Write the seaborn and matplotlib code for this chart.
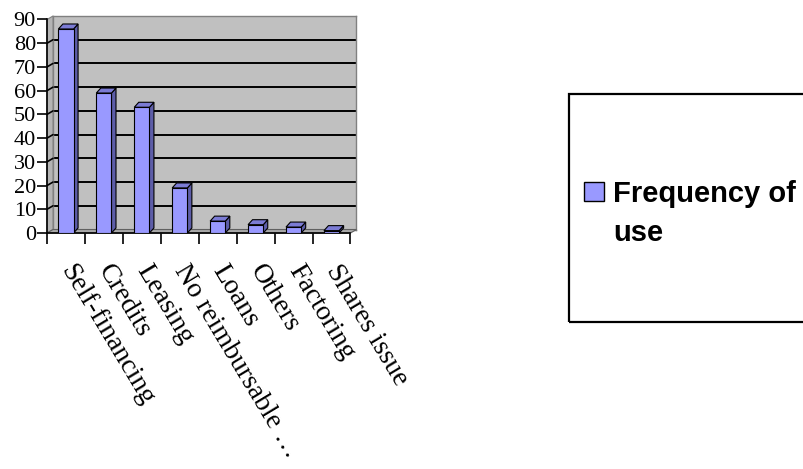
import numpy as np
import pandas as pd
import matplotlib
matplotlib.use("Agg")
import matplotlib.pyplot as plt
import seaborn as sns
from matplotlib.patches import Polygon, Rectangle
from matplotlib.lines import Line2D
from matplotlib.legend_handler import HandlerPatch

# ---- data ----
categories = ["Self-financing", "Credits", "Leasing", "No reimbursable \u2026",
              "Loans", "Others", "Factoring", "Shares issue"]
values = [86, 59, 53, 19, 5, 3.5, 2.5, 1]
series_name = "Frequency of\nuse"
y_ticks = list(range(0, 100, 10))

sns.set_theme(style="white")
plt.rcParams["font.family"] = ["Liberation Serif", "DejaVu Serif"]
plt.rcParams["text.color"] = "black"
plt.rcParams["xtick.color"] = "black"
plt.rcParams["ytick.color"] = "black"

W, H = 804, 469
fig = plt.figure(figsize=(W / 100, H / 100), dpi=100)


def fbox(l, t, r, b):
    return [l / W, 1 - b / H, (r - l) / W, (b - t) / H]


# geometry (pixels, top-down)
L, T, R, B = 47, 19.5, 350.5, 233
DX, DY = 6, 3.5  # 3D depth offset in px

# back wall
ax_wall = fig.add_axes(fbox(L + DX, T - DY, R + DX, B - DY), zorder=0)
ax_wall.set_facecolor("#c0c0c0")
ax_wall.set_xlim(-0.5, len(categories) - 0.5)
ax_wall.set_ylim(0, 90)
ax_wall.set_yticks(y_ticks[1:-1])
ax_wall.set_xticks([])
ax_wall.yaxis.grid(True, color="black", linewidth=1.4)
ax_wall.tick_params(left=False, labelleft=False, bottom=False, labelbottom=False)
for s in ax_wall.spines.values():
    s.set_color("#808080")
    s.set_linewidth(1.0)

# main axes
ax = fig.add_axes(fbox(L, T, R, B), zorder=2)
ax.patch.set_alpha(0)
df = pd.DataFrame({"category": categories, "value": values})
sns.barplot(data=df, x="category", y="value", ax=ax, color="#9999ff",
            saturation=1, width=0.4, edgecolor="black", linewidth=0.8,
            label=series_name, zorder=3)
if ax.get_legend() is not None:
    ax.get_legend().remove()
ax.set_xlim(-0.5, len(categories) - 0.5)
ax.set_ylim(0, 90)
ax.set_xlabel("")
ax.set_ylabel("")

# depth offsets in data units
dx = DX * len(categories) / (R - L)
dy = DY * 90 / (B - T)
dxb = 4.5 * len(categories) / (R - L)
dyb = 5 * 90 / (B - T)

# side wall, floor and diagonal grid stubs
x0, x1 = -0.5, len(categories) - 0.5
ax.add_patch(Polygon([(x0, 0), (x0, 90), (x0 + dx, 90 + dy), (x0 + dx, dy)],
                     closed=True, fc="#b4b4b4", ec="#808080", lw=0.8,
                     clip_on=False, zorder=1))
ax.add_patch(Polygon([(x0, 0), (x1, 0), (x1 + dx, dy), (x0 + dx, dy)],
                     closed=True, fc="#a8a8a8", ec="#606060", lw=0.8,
                     clip_on=False, zorder=1))
for v in y_ticks[1:-1]:
    ax.add_line(Line2D([x0, x0 + dx], [v, v + dy], color="black", lw=1.2,
                       clip_on=False, zorder=1.5))

# 3D bar faces
for p in list(ax.patches):
    if not isinstance(p, matplotlib.patches.Rectangle):
        continue
    bx, bw, bh = p.get_x(), p.get_width(), p.get_height()
    side = Polygon([(bx + bw, 0), (bx + bw + dxb, dyb), (bx + bw + dxb, bh + dyb),
                    (bx + bw, bh)], closed=True, fc="#5d5da8", ec="black",
                   lw=0.8, clip_on=False, zorder=2.9)
    top = Polygon([(bx, bh), (bx + dxb, bh + dyb), (bx + bw + dxb, bh + dyb),
                   (bx + bw, bh)], closed=True, fc="#7b7bd4", ec="black",
                  lw=0.8, clip_on=False, zorder=2.9)
    ax.add_patch(side)
    ax.add_patch(top)

# spines / ticks
for s in ["top", "right"]:
    ax.spines[s].set_visible(False)
for s in ["left", "bottom"]:
    ax.spines[s].set_color("black")
    ax.spines[s].set_linewidth(1.2)
ax.set_yticks(y_ticks)
ax.set_yticklabels([str(v) for v in y_ticks], fontsize=16,
                   family=["Liberation Serif"], color="black")
ax.tick_params(axis="y", direction="out", length=7, width=1.2, pad=1,
               left=True, colors="black")
ax.set_xticks(range(len(categories)))
ax.set_xticks(np.arange(len(categories) + 1) - 0.5, minor=True)
ax.tick_params(axis="x", which="major", length=0, pad=24, bottom=True)
ax.tick_params(axis="x", which="minor", direction="out", length=8, width=1.2,
               bottom=True, color="black")
ax.set_xticklabels(categories, rotation=-59, ha="left", va="center",
                   rotation_mode="anchor", fontsize=20,
                   family=["Liberation Serif"], color="black")


# legend: handle aligned with the first line of the two-line label
def raised_patch(legend, orig_handle, xdescent, ydescent, width, height, fontsize):
    return Rectangle((-xdescent, -ydescent + 16.5), width, height)


def from_first_bar(legend_handle, orig_handle):
    first = orig_handle.patches[0] if hasattr(orig_handle, "patches") else orig_handle
    legend_handle.set_facecolor(first.get_facecolor())
    legend_handle.set_edgecolor("black")
    legend_handle.set_linewidth(1.0)


handles, labels = ax.get_legend_handles_labels()
leg = fig.legend(handles[:1], labels[:1], loc="upper left",
                 bbox_to_anchor=(584 / W, 1 - 180 / H), frameon=False,
                 borderpad=0, borderaxespad=0, handlelength=0.7,
                 handleheight=0.62, handletextpad=0.3,
                 handler_map={type(handles[0]): HandlerPatch(patch_func=raised_patch,
                                                             update_func=from_first_bar)},
                 prop={"family": "Liberation Sans", "weight": "bold", "size": 21})
for t in leg.get_texts():
    t.set_color("black")
    t.set_linespacing(1.5)
fig.add_artist(Rectangle((569 / W, 1 - 322 / H), (830 - 569) / W, (322 - 94) / H,
                         transform=fig.transFigure, fill=False, ec="black",
                         lw=1.6, zorder=5))

fig.savefig("out.png", dpi=100)
